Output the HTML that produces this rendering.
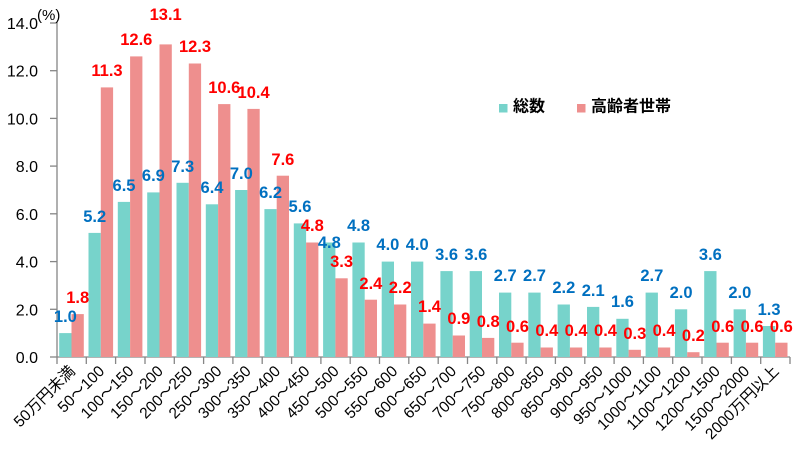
<!DOCTYPE html>
<html><head><meta charset="utf-8"><style>
html,body{margin:0;padding:0;background:#fff;}
svg{display:block;}
.y{font:16px "Liberation Sans","Noto Sans CJK JP",sans-serif;fill:#000;text-anchor:end;}
.x{font:15.5px "Liberation Sans","Noto Sans CJK JP",sans-serif;fill:#000;text-anchor:end;}
.b{font:bold 16.5px "Liberation Sans",sans-serif;fill:#0070C0;text-anchor:middle;dominant-baseline:central;}
.r{font:bold 16.5px "Liberation Sans",sans-serif;fill:#FF0000;text-anchor:middle;dominant-baseline:central;}
.lg{font:bold 16px "Liberation Sans","Noto Sans CJK JP",sans-serif;fill:#000;dominant-baseline:central;}
</style></head><body>
<svg width="798" height="458" viewBox="0 0 798 458" xmlns="http://www.w3.org/2000/svg">
<g stroke="#868686" stroke-width="1.3">
<line x1="57" y1="22" x2="57" y2="357"/>
<line x1="57" y1="357" x2="790" y2="357"/>
<line x1="50" y1="23" x2="57" y2="23"/><line x1="50" y1="70.7" x2="57" y2="70.7"/><line x1="50" y1="118.4" x2="57" y2="118.4"/><line x1="50" y1="166.1" x2="57" y2="166.1"/><line x1="50" y1="213.8" x2="57" y2="213.8"/><line x1="50" y1="261.6" x2="57" y2="261.6"/><line x1="50" y1="309.3" x2="57" y2="309.3"/><line x1="50" y1="357" x2="57" y2="357"/>
<line x1="57" y1="357" x2="57" y2="364"/><line x1="86.3" y1="357" x2="86.3" y2="364"/><line x1="115.6" y1="357" x2="115.6" y2="364"/><line x1="145" y1="357" x2="145" y2="364"/><line x1="174.3" y1="357" x2="174.3" y2="364"/><line x1="203.6" y1="357" x2="203.6" y2="364"/><line x1="232.9" y1="357" x2="232.9" y2="364"/><line x1="262.2" y1="357" x2="262.2" y2="364"/><line x1="291.6" y1="357" x2="291.6" y2="364"/><line x1="320.9" y1="357" x2="320.9" y2="364"/><line x1="350.2" y1="357" x2="350.2" y2="364"/><line x1="379.5" y1="357" x2="379.5" y2="364"/><line x1="408.8" y1="357" x2="408.8" y2="364"/><line x1="438.2" y1="357" x2="438.2" y2="364"/><line x1="467.5" y1="357" x2="467.5" y2="364"/><line x1="496.8" y1="357" x2="496.8" y2="364"/><line x1="526.1" y1="357" x2="526.1" y2="364"/><line x1="555.4" y1="357" x2="555.4" y2="364"/><line x1="584.8" y1="357" x2="584.8" y2="364"/><line x1="614.1" y1="357" x2="614.1" y2="364"/><line x1="643.4" y1="357" x2="643.4" y2="364"/><line x1="672.7" y1="357" x2="672.7" y2="364"/><line x1="702" y1="357" x2="702" y2="364"/><line x1="731.4" y1="357" x2="731.4" y2="364"/><line x1="760.7" y1="357" x2="760.7" y2="364"/><line x1="790" y1="357" x2="790" y2="364"/>
</g>
<g class="y">
<text x="38" y="29">14.0</text><text x="38" y="76.7">12.0</text><text x="38" y="124.4">10.0</text><text x="38" y="172.1">8.0</text><text x="38" y="219.8">6.0</text><text x="38" y="267.6">4.0</text><text x="38" y="315.3">2.0</text><text x="38" y="363">0.0</text>
</g>
<text x="37" y="20" style="font:15px 'Liberation Sans','Noto Sans CJK JP',sans-serif">(%)</text>
<g fill="#77D3CB">
<rect x="59.2" y="333.1" width="12.3" height="23.9"/><rect x="88.5" y="232.9" width="12.3" height="124.1"/><rect x="117.8" y="201.9" width="12.3" height="155.1"/><rect x="147.2" y="192.4" width="12.3" height="164.6"/><rect x="176.5" y="182.8" width="12.3" height="174.2"/><rect x="205.8" y="204.3" width="12.3" height="152.7"/><rect x="235.1" y="190" width="12.3" height="167"/><rect x="264.4" y="209.1" width="12.3" height="147.9"/><rect x="293.8" y="223.4" width="12.3" height="133.6"/><rect x="323.1" y="242.5" width="12.3" height="114.5"/><rect x="352.4" y="242.5" width="12.3" height="114.5"/><rect x="381.7" y="261.6" width="12.3" height="95.4"/><rect x="411" y="261.6" width="12.3" height="95.4"/><rect x="440.4" y="271.1" width="12.3" height="85.9"/><rect x="469.7" y="271.1" width="12.3" height="85.9"/><rect x="499" y="292.6" width="12.3" height="64.4"/><rect x="528.3" y="292.6" width="12.3" height="64.4"/><rect x="557.6" y="304.5" width="12.3" height="52.5"/><rect x="587" y="306.9" width="12.3" height="50.1"/><rect x="616.3" y="318.8" width="12.3" height="38.2"/><rect x="645.6" y="292.6" width="12.3" height="64.4"/><rect x="674.9" y="309.3" width="12.3" height="47.7"/><rect x="704.2" y="271.1" width="12.3" height="85.9"/><rect x="733.6" y="309.3" width="12.3" height="47.7"/><rect x="762.9" y="326" width="12.3" height="31"/>
</g>
<g fill="#EE8F8E">
<rect x="71.5" y="314.1" width="12.3" height="42.9"/><rect x="100.8" y="87.4" width="12.3" height="269.6"/><rect x="130.1" y="56.4" width="12.3" height="300.6"/><rect x="159.5" y="44.4" width="12.3" height="312.6"/><rect x="188.8" y="63.5" width="12.3" height="293.5"/><rect x="218.1" y="104.1" width="12.3" height="252.9"/><rect x="247.4" y="108.9" width="12.3" height="248.1"/><rect x="276.7" y="175.7" width="12.3" height="181.3"/><rect x="306.1" y="242.5" width="12.3" height="114.5"/><rect x="335.4" y="278.3" width="12.3" height="78.7"/><rect x="364.7" y="299.7" width="12.3" height="57.3"/><rect x="394" y="304.5" width="12.3" height="52.5"/><rect x="423.3" y="323.6" width="12.3" height="33.4"/><rect x="452.7" y="335.5" width="12.3" height="21.5"/><rect x="482" y="337.9" width="12.3" height="19.1"/><rect x="511.3" y="342.7" width="12.3" height="14.3"/><rect x="540.6" y="347.5" width="12.3" height="9.5"/><rect x="569.9" y="347.5" width="12.3" height="9.5"/><rect x="599.3" y="347.5" width="12.3" height="9.5"/><rect x="628.6" y="349.8" width="12.3" height="7.2"/><rect x="657.9" y="347.5" width="12.3" height="9.5"/><rect x="687.2" y="352.2" width="12.3" height="4.8"/><rect x="716.5" y="342.7" width="12.3" height="14.3"/><rect x="745.9" y="342.7" width="12.3" height="14.3"/><rect x="775.2" y="342.7" width="12.3" height="14.3"/>
</g>
<g class="b">
<text x="65.4" y="317">1.0</text><text x="94.7" y="217">5.2</text><text x="124" y="186">6.5</text><text x="153.4" y="176">6.9</text><text x="182.7" y="167">7.3</text><text x="212" y="188">6.4</text><text x="241.3" y="174">7.0</text><text x="270.6" y="193">6.2</text><text x="300" y="207">5.6</text><text x="329.3" y="243">4.8</text><text x="358.6" y="226">4.8</text><text x="387.9" y="245">4.0</text><text x="417.2" y="245">4.0</text><text x="446.6" y="255">3.6</text><text x="475.9" y="255">3.6</text><text x="505.2" y="276">2.7</text><text x="534.5" y="276">2.7</text><text x="563.8" y="288">2.2</text><text x="593.2" y="291">2.1</text><text x="622.5" y="302">1.6</text><text x="651.8" y="276">2.7</text><text x="681.1" y="293">2.0</text><text x="710.4" y="255">3.6</text><text x="739.8" y="293">2.0</text><text x="769.1" y="310">1.3</text>
</g>
<g class="r">
<text x="77.7" y="298">1.8</text><text x="107" y="71">11.3</text><text x="136.3" y="40">12.6</text><text x="165.7" y="15">13.1</text><text x="195" y="47">12.3</text><text x="224.3" y="88">10.6</text><text x="253.6" y="93">10.4</text><text x="282.9" y="160">7.6</text><text x="312.3" y="226">4.8</text><text x="341.6" y="262">3.3</text><text x="370.9" y="284">2.4</text><text x="400.2" y="288">2.2</text><text x="429.5" y="307">1.4</text><text x="458.9" y="319">0.9</text><text x="488.2" y="322">0.8</text><text x="517.5" y="327">0.6</text><text x="546.8" y="331">0.4</text><text x="576.1" y="331">0.4</text><text x="605.5" y="331">0.4</text><text x="634.8" y="334">0.3</text><text x="664.1" y="331">0.4</text><text x="693.4" y="336">0.2</text><text x="722.7" y="327">0.6</text><text x="752.1" y="327">0.6</text><text x="781.4" y="327">0.6</text>
</g>
<g class="x">
<text transform="translate(76,372) rotate(-45)">50万円未満</text>
<text transform="translate(105.3,372) rotate(-45)">50～100</text>
<text transform="translate(134.6,372) rotate(-45)">100～150</text>
<text transform="translate(164,372) rotate(-45)">150～200</text>
<text transform="translate(193.3,372) rotate(-45)">200～250</text>
<text transform="translate(222.6,372) rotate(-45)">250～300</text>
<text transform="translate(251.9,372) rotate(-45)">300～350</text>
<text transform="translate(281.2,372) rotate(-45)">350～400</text>
<text transform="translate(310.6,372) rotate(-45)">400～450</text>
<text transform="translate(339.9,372) rotate(-45)">450～500</text>
<text transform="translate(369.2,372) rotate(-45)">500～550</text>
<text transform="translate(398.5,372) rotate(-45)">550～600</text>
<text transform="translate(427.8,372) rotate(-45)">600～650</text>
<text transform="translate(457.2,372) rotate(-45)">650～700</text>
<text transform="translate(486.5,372) rotate(-45)">700～750</text>
<text transform="translate(515.8,372) rotate(-45)">750～800</text>
<text transform="translate(545.1,372) rotate(-45)">800～850</text>
<text transform="translate(574.4,372) rotate(-45)">850～900</text>
<text transform="translate(603.8,372) rotate(-45)">900～950</text>
<text transform="translate(633.1,372) rotate(-45)">950～1000</text>
<text transform="translate(662.4,372) rotate(-45)">1000～1100</text>
<text transform="translate(691.7,372) rotate(-45)">1100～1200</text>
<text transform="translate(721,372) rotate(-45)">1200～1500</text>
<text transform="translate(750.4,372) rotate(-45)">1500～2000</text>
<text transform="translate(779.7,372) rotate(-45)">2000万円以上</text>
</g>
<rect x="499" y="104" width="8.5" height="8.5" fill="#77D3CB"/>
<text class="lg" x="513" y="107">総数</text>
<rect x="577" y="104" width="8.5" height="8.5" fill="#EE8F8E"/>
<text class="lg" x="591" y="107">高齢者世帯</text>
</svg>
</body></html>
